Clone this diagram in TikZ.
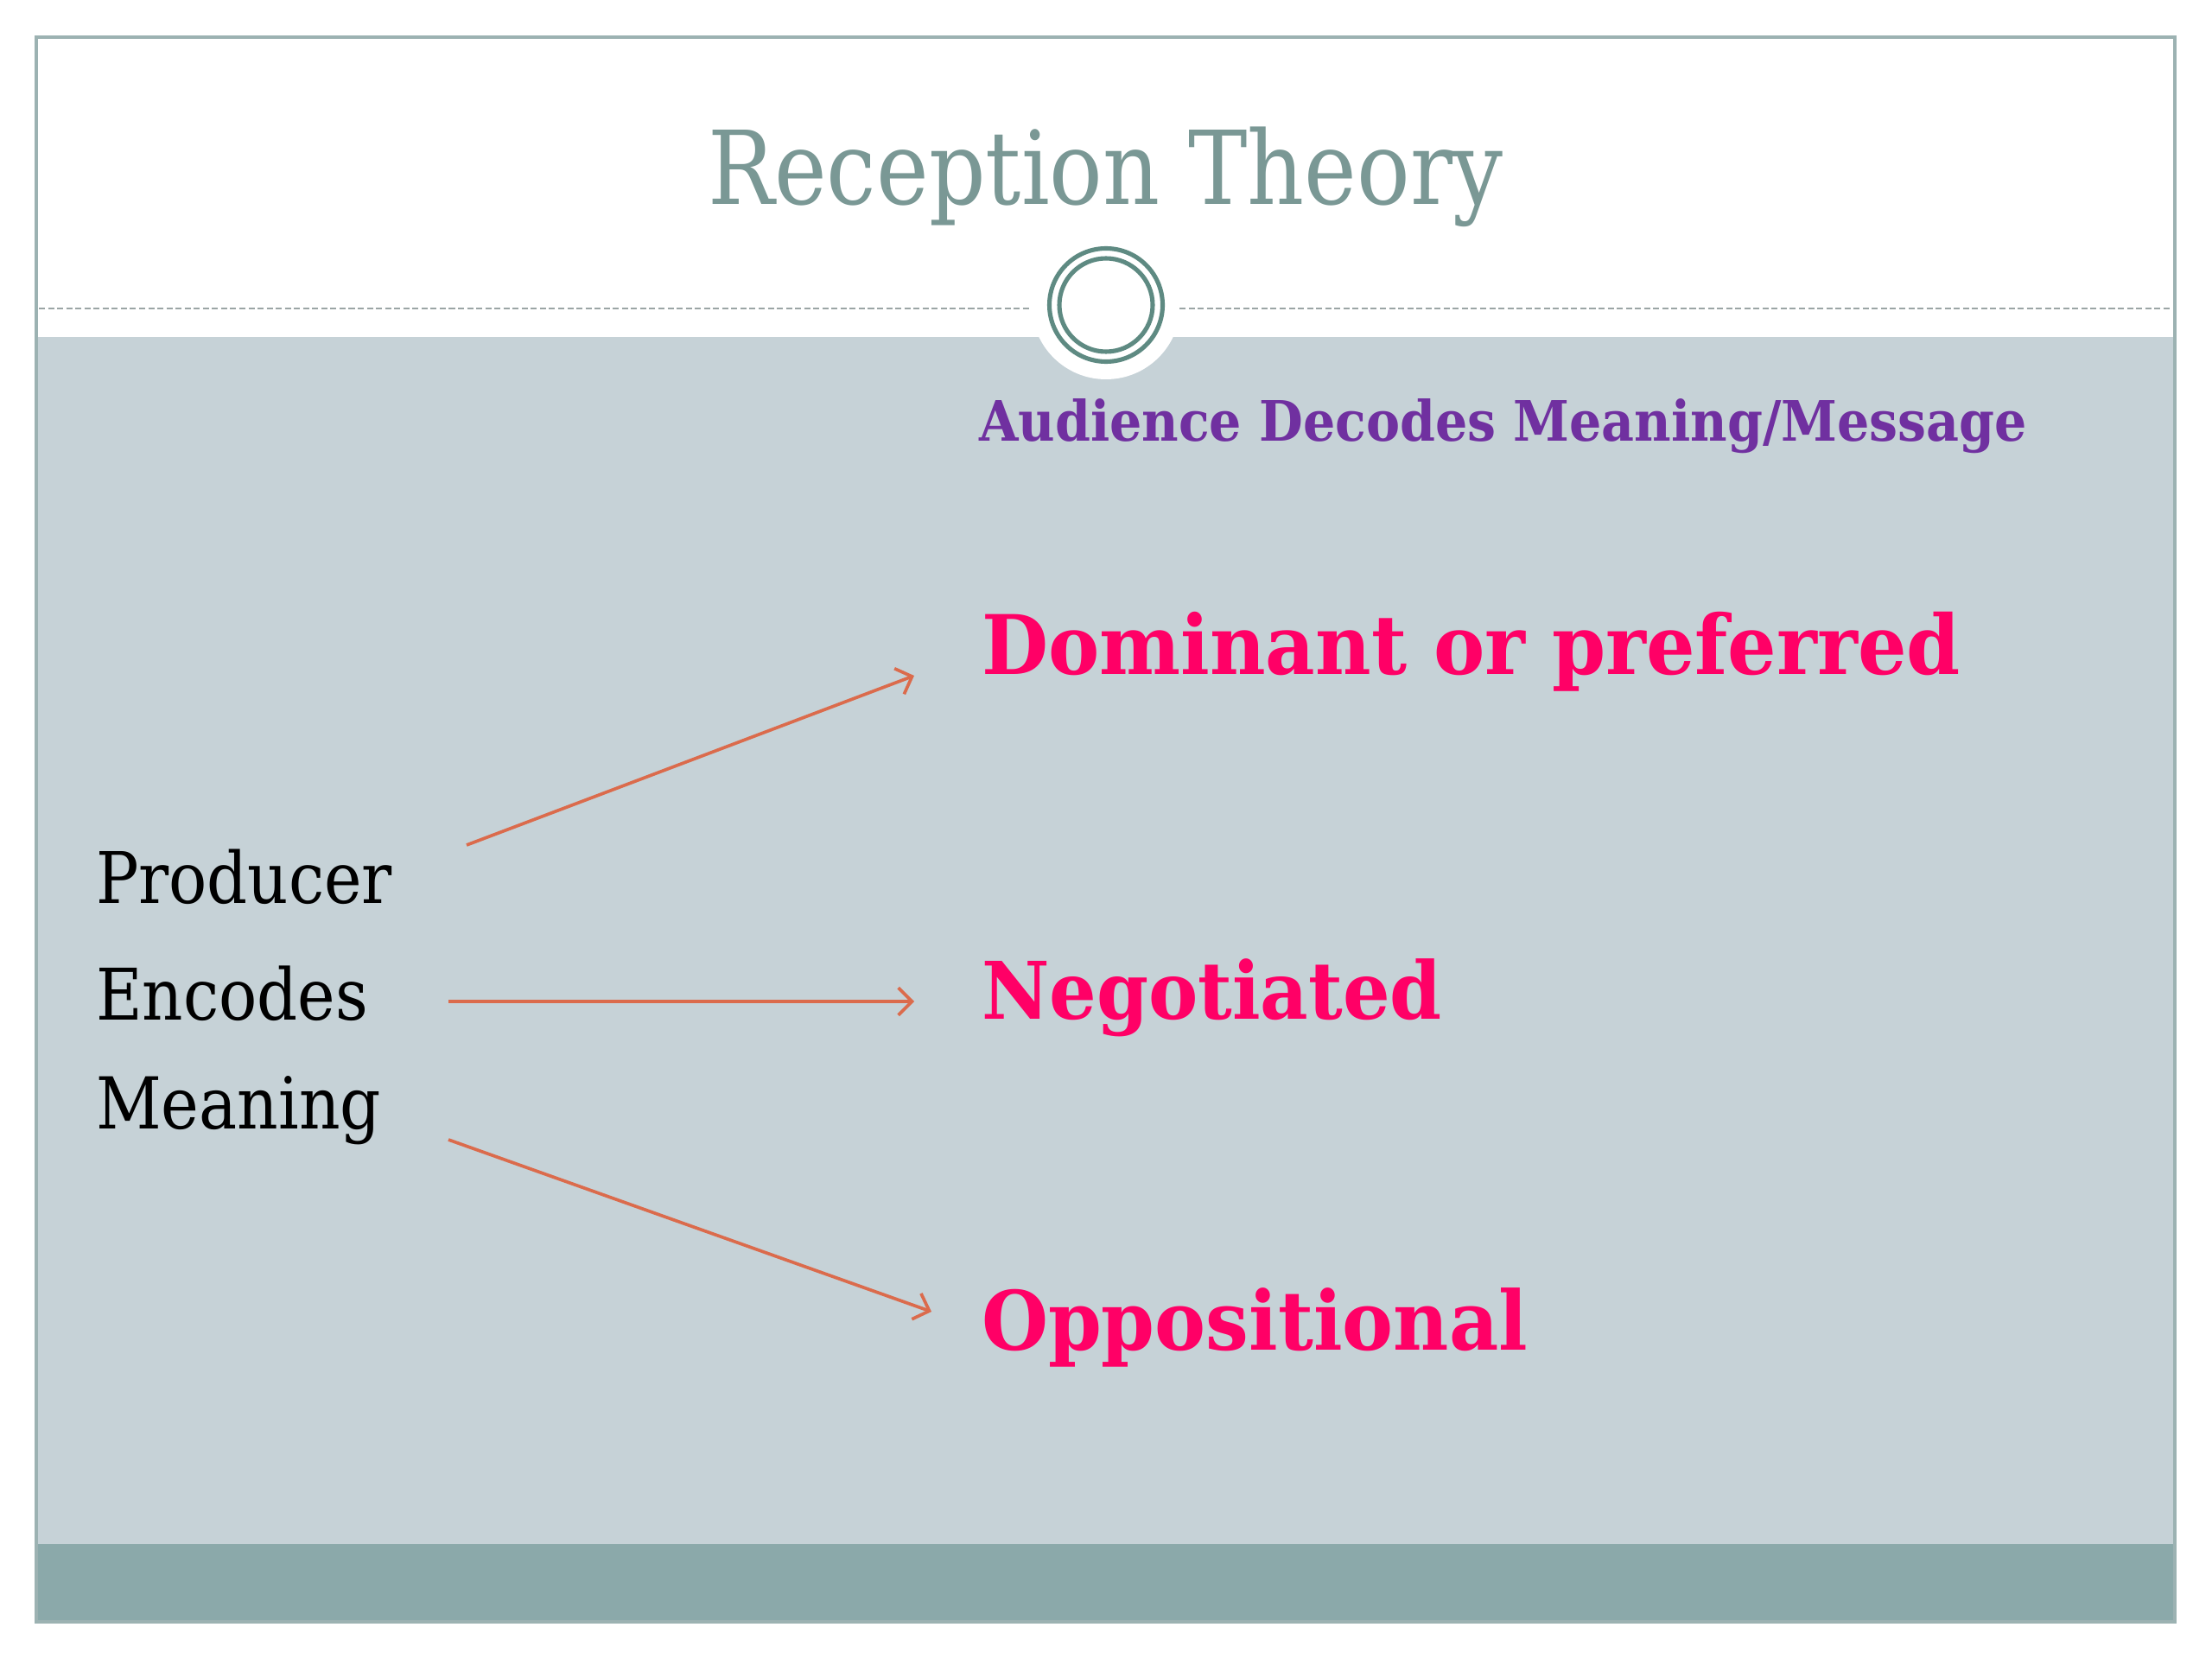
\documentclass[tikz,border=0pt]{standalone}
\usepackage{fontspec}
\setmainfont{DejaVu Serif}
\usetikzlibrary{arrows.meta}
\definecolor{framec}{HTML}{9CB2B2}
\definecolor{bodyc}{HTML}{C6D2D7}
\definecolor{bandc}{HTML}{8BA9AA}
\definecolor{ringc}{HTML}{5E8A82}
\definecolor{titlec}{HTML}{7A9895}
\definecolor{dashc}{HTML}{9BA5A5}
\definecolor{purp}{HTML}{7030A0}
\definecolor{pinkc}{HTML}{FF0066}
\definecolor{arrc}{HTML}{DB6B4C}
\tikzset{
  txt/.style={anchor=base west, inner sep=0pt, outer sep=0pt},
  conn/.style={draw=arrc, line width=1.05pt, -{Straight Barb[length=4.5pt,width=9pt,line width=1.05pt]}},
}
\newcommand{\fitw}[3]{\resizebox{#1}{!}{\scalebox{1}[#2]{#3}}}
\begin{document}
\begin{tikzpicture}
\useasboundingbox[fill=white] (0,0) rectangle (25.6,-19.2);
% body areas
\fill[bodyc] (0.42,-3.90) rectangle (25.17,-17.87);
\fill[bandc] (0.42,-17.87) rectangle (25.17,-18.77);
\draw[framec, line width=0.9pt] (0.42,-0.43) rectangle (25.17,-18.77);
% white disc cut
\fill[white] (12.80,-3.53) circle (0.86);
% dashed rule
\draw[dashc, line width=0.85pt, dash pattern=on 2pt off 1pt] (0.45,-3.57) -- (11.93,-3.57);
\draw[dashc, line width=0.85pt, dash pattern=on 2pt off 1pt] (13.65,-3.57) -- (25.14,-3.57);
% rings
\draw[ringc, line width=1.45pt] (12.80,-3.53) circle (0.655);
\draw[ringc, line width=1.45pt] (12.80,-3.53) circle (0.54);
% title
\node[txt, text=titlec] (title) at (8.19,-2.37) {\fitw{9.20cm}{1.15}{Reception Theory}};
\node[txt, text=purp] (aud) at (11.33,-5.11) {\fitw{12.13cm}{1.1}{\bfseries Audience Decodes Meaning/Message}};
\node[txt, text=pinkc] (dom) at (11.36,-7.80) {\fitw{11.33cm}{1.07}{\bfseries Dominant or preferred}};
\node[txt, text=pinkc] (neg) at (11.36,-11.79) {\fitw{5.33cm}{1.07}{\bfseries Negotiated}};
\node[txt, text=pinkc] (opp) at (11.36,-15.62) {\fitw{6.32cm}{1.07}{\bfseries Oppositional}};
\node[txt, text=black] (prod) at (1.11,-10.45) {\fitw{3.43cm}{1.12}{Producer}};
\node[txt, text=black] (enc) at (1.11,-11.80) {\fitw{3.15cm}{1.12}{Encodes}};
\node[txt, text=black] (mean) at (1.11,-13.06) {\fitw{3.30cm}{1.12}{Meaning}};
% connectors
\coordinate (s1) at (5.40,-9.78);
\coordinate (e1) at (10.58,-7.82);
\coordinate (s2) at (5.19,-11.59);
\coordinate (e2) at (10.58,-11.59);
\coordinate (s3) at (5.19,-13.19);
\coordinate (e3) at (10.78,-15.18);
\draw[conn] (s1) -- (e1);
\draw[conn] (s2) -- (e2);
\draw[conn] (s3) -- (e3);
\end{tikzpicture}
\end{document}
